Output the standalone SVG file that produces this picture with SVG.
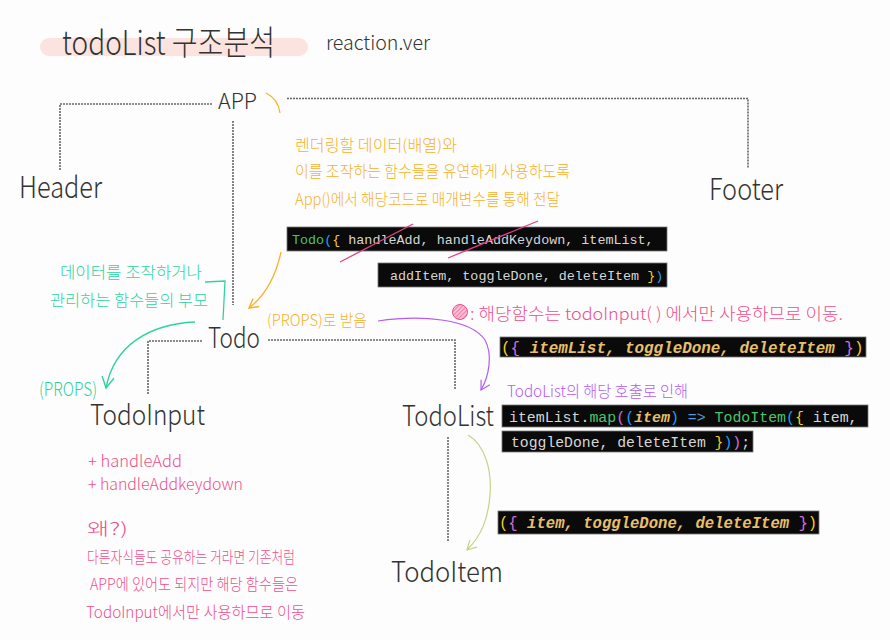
<svg xmlns="http://www.w3.org/2000/svg" width="890" height="640" viewBox="0 0 890 640">
<style>
.lbl{font-family:"Noto Sans CJK KR","Noto Sans",sans-serif;font-weight:300;fill:#333}
.hw{font-family:"Noto Sans CJK KR","Noto Sans",sans-serif;font-weight:300}
.or{fill:#f6b12a}
.gr{fill:#2fd3a3}
.pk{fill:#ef4f8c}
.pu{fill:#b35cf2}
.dash{fill:none;stroke:#666;stroke-width:1.6;stroke-dasharray:2 1}
.code{font-family:"Liberation Mono","DejaVu Sans Mono",monospace;fill:#d6d6d6}
.it{font-style:italic;fill:#e8c06a;font-weight:bold}
.box{fill:#0a0a0a;stroke:#777;stroke-width:0.8}
.g{fill:#4cc46a}.b{fill:#1e9fff}.y{fill:#f5d020}.p{fill:#d36ce0}.k{fill:#569cd6}
</style>
<defs>
<marker id="aOr" viewBox="0 0 12 12" refX="10" refY="6" markerWidth="12" markerHeight="12" orient="auto" markerUnits="userSpaceOnUse"><path d="M1,1 L10,6 L1,11" fill="none" stroke="#f6b12a" stroke-width="1.4"/></marker>
<marker id="aGr" viewBox="0 0 14 14" refX="12" refY="7" markerWidth="14" markerHeight="14" orient="auto" markerUnits="userSpaceOnUse"><path d="M1,1 L12,7 L1,13" fill="none" stroke="#2fd3a3" stroke-width="1.4"/></marker>
<marker id="aPu" viewBox="0 0 12 12" refX="10" refY="6" markerWidth="12" markerHeight="12" orient="auto" markerUnits="userSpaceOnUse"><path d="M1,1 L10,6 L1,11" fill="none" stroke="#b35cf2" stroke-width="1.2"/></marker>
<marker id="aOl" viewBox="0 0 12 12" refX="10" refY="6" markerWidth="12" markerHeight="12" orient="auto" markerUnits="userSpaceOnUse"><path d="M1,1 L10,6 L1,11" fill="none" stroke="#c3d38a" stroke-width="1.2"/></marker>
<pattern id="hatch" width="3" height="3" patternUnits="userSpaceOnUse" patternTransform="rotate(45)"><rect width="3" height="3" fill="#fbc2d6"/><line x1="0" y1="0" x2="0" y2="3" stroke="#ee4f8c" stroke-width="1.2"/></pattern>
</defs>
<rect width="890" height="640" fill="#fdfdfd"/>

<!-- title -->
<rect x="40" y="38" width="268" height="18" rx="9" fill="#fbe3df"/>
<text class="lbl" x="62" y="55" font-size="34" textLength="213" lengthAdjust="spacingAndGlyphs">todoList 구조분석</text>
<text class="lbl" x="326" y="50" font-size="20" textLength="104" lengthAdjust="spacingAndGlyphs">reaction.ver</text>

<!-- connectors -->
<g id="connectors">
<path class="dash" d="M212,104 H60 V170"/>
<path class="dash" d="M287,98.5 H748 V168"/>
<path class="dash" d="M233,121 V305"/>
<path class="dash" d="M202,341 H148 V395"/>
<path class="dash" d="M268,340 H455 V390"/>
<path class="dash" d="M448,437 V542"/>
<path d="M266,93 C274,97 279,104 280,113" fill="none" stroke="#f6b12a" stroke-width="1.3"/>
<path d="M281,252 C276,275 266,295 249,308" fill="none" stroke="#f6b12a" stroke-width="1.3" marker-end="url(#aOr)"/>
<path d="M195,322 C150,324 114,345 106,388" fill="none" stroke="#2fd3a3" stroke-width="1.4" marker-end="url(#aGr)"/>
<path d="M378,321 C420,315 470,318 485,340 C493,355 489,376 481,390" fill="none" stroke="#b35cf2" stroke-width="1.2" marker-end="url(#aPu)"/>
<path d="M468,435 C485,445 492,470 490,495 C488,520 481,536 467,550" fill="none" stroke="#c3d38a" stroke-width="1.2" marker-end="url(#aOl)"/>
</g>

<!-- nodes -->
<g id="app"><text class="lbl" x="218" y="109" font-size="22" textLength="39" lengthAdjust="spacingAndGlyphs">APP</text></g>
<g id="header"><text class="lbl" x="19" y="198" font-size="30" textLength="83" lengthAdjust="spacingAndGlyphs">Header</text></g>
<g id="footer"><text class="lbl" x="709" y="200" font-size="30" textLength="74" lengthAdjust="spacingAndGlyphs">Footer</text></g>
<g id="todo"><text class="lbl" x="208" y="348" font-size="28" textLength="52" lengthAdjust="spacingAndGlyphs">Todo</text></g>
<g id="todo-input"><text class="lbl" x="90" y="425" font-size="28" textLength="115" lengthAdjust="spacingAndGlyphs">TodoInput</text></g>
<g id="todo-list"><text class="lbl" x="402" y="426" font-size="28" textLength="92" lengthAdjust="spacingAndGlyphs">TodoList</text></g>
<g id="todo-item"><text class="lbl" x="391" y="582" font-size="28" textLength="112" lengthAdjust="spacingAndGlyphs">TodoItem</text></g>

<!-- orange notes -->
<g class="hw or" font-size="16">
<text x="295" y="151" textLength="162" lengthAdjust="spacingAndGlyphs">렌더링할 데이터(배열)와</text>
<text x="295" y="177" textLength="275" lengthAdjust="spacingAndGlyphs">이를 조작하는 함수들을 유연하게 사용하도록</text>
<text x="295" y="205" textLength="265" lengthAdjust="spacingAndGlyphs">App()에서 해당코드로 매개변수를 통해 전달</text>
<text x="267" y="326" textLength="100" lengthAdjust="spacingAndGlyphs">(PROPS)로 받음</text>
</g>

<!-- code block 1 -->
<rect class="box" x="287" y="227" width="380" height="24"/>
<text class="code" x="292" y="244" font-size="13.4" xml:space="preserve"><tspan class="g">Todo</tspan><tspan class="b">(</tspan><tspan class="y">{</tspan> handleAdd, handleAddKeydown, itemList,</text>
<rect class="box" x="378" y="263" width="289" height="24"/>
<text class="code" x="390" y="280" font-size="13.4" xml:space="preserve">addItem, toggleDone, deleteItem <tspan class="y">}</tspan><tspan class="b">)</tspan></text>
<line x1="340" y1="262" x2="413" y2="224" stroke="#ea3f82" stroke-width="1.3"/>
<line x1="448" y1="258" x2="538" y2="221" stroke="#ea3f82" stroke-width="1.3"/>

<!-- green notes -->
<g class="hw gr" font-size="16">
<text x="60" y="278" textLength="142" lengthAdjust="spacingAndGlyphs">데이터를 조작하거나</text>
<text x="50" y="306" textLength="158" lengthAdjust="spacingAndGlyphs">관리하는 함수들의 부모</text>
<text x="39" y="396" font-size="19" textLength="58" lengthAdjust="spacingAndGlyphs">(PROPS)</text>
</g>
<path d="M205,282 L225,281 L223,320" fill="none" stroke="#2fd3a3" stroke-width="1.3"/>

<!-- pink note -->
<circle cx="460" cy="312" r="7.5" fill="url(#hatch)" stroke="#ee4f8c" stroke-width="1"/>
<text class="hw pk" x="470" y="320" font-size="17" textLength="373" lengthAdjust="spacingAndGlyphs">: 해당함수는 todoInput( ) 에서만 사용하므로 이동.</text>

<!-- code block 3 -->
<rect class="box" x="500" y="337" width="366" height="20"/>
<text class="code" x="501" y="353" font-size="15.9" xml:space="preserve"><tspan class="y">(</tspan><tspan class="p">{</tspan><tspan class="it"> itemList, toggleDone, deleteItem </tspan><tspan class="p">}</tspan><tspan class="y">)</tspan></text>

<text class="hw pu" x="507" y="397" font-size="16" textLength="181" lengthAdjust="spacingAndGlyphs">TodoList의 해당 호출로 인해</text>

<!-- code block 4/5 -->
<rect class="box" x="502" y="405" width="366" height="22"/>
<text class="code" x="509" y="422" font-size="14.9" xml:space="preserve">itemList.<tspan class="g">map</tspan><tspan class="p">(</tspan><tspan class="b">(</tspan><tspan class="it">item</tspan><tspan class="b">)</tspan> <tspan class="k">=&gt;</tspan> <tspan class="g">TodoItem</tspan><tspan class="b">(</tspan><tspan class="y">{</tspan> item,</text>
<rect class="box" x="502" y="431" width="251" height="21"/>
<text class="code" x="511" y="447" font-size="14.75" xml:space="preserve">toggleDone, deleteItem <tspan class="y">}</tspan><tspan class="b">)</tspan><tspan class="p">)</tspan>;</text>

<!-- code block 6 -->
<rect class="box" x="498" y="511" width="321" height="23"/>
<text class="code" x="499" y="528" font-size="15.6" xml:space="preserve"><tspan class="y">(</tspan><tspan class="p">{</tspan><tspan class="it"> item, toggleDone, deleteItem </tspan><tspan class="p">}</tspan><tspan class="y">)</tspan></text>

<!-- pink bottom notes -->
<g class="hw pk" font-size="16">
<text x="88" y="467" textLength="94" lengthAdjust="spacingAndGlyphs">+ handleAdd</text>
<text x="88" y="490" textLength="155" lengthAdjust="spacingAndGlyphs">+ handleAddkeydown</text>
<text x="87" y="535" font-size="17" textLength="41" lengthAdjust="spacingAndGlyphs">왜?)</text>
<text x="87" y="563" textLength="208" lengthAdjust="spacingAndGlyphs">다른자식들도 공유하는 거라면 기존처럼</text>
<text x="90" y="590" textLength="208" lengthAdjust="spacingAndGlyphs">APP에 있어도 되지만 해당 함수들은</text>
<text x="86" y="618" textLength="219" lengthAdjust="spacingAndGlyphs">TodoInput에서만 사용하므로 이동</text>
</g>
</svg>
